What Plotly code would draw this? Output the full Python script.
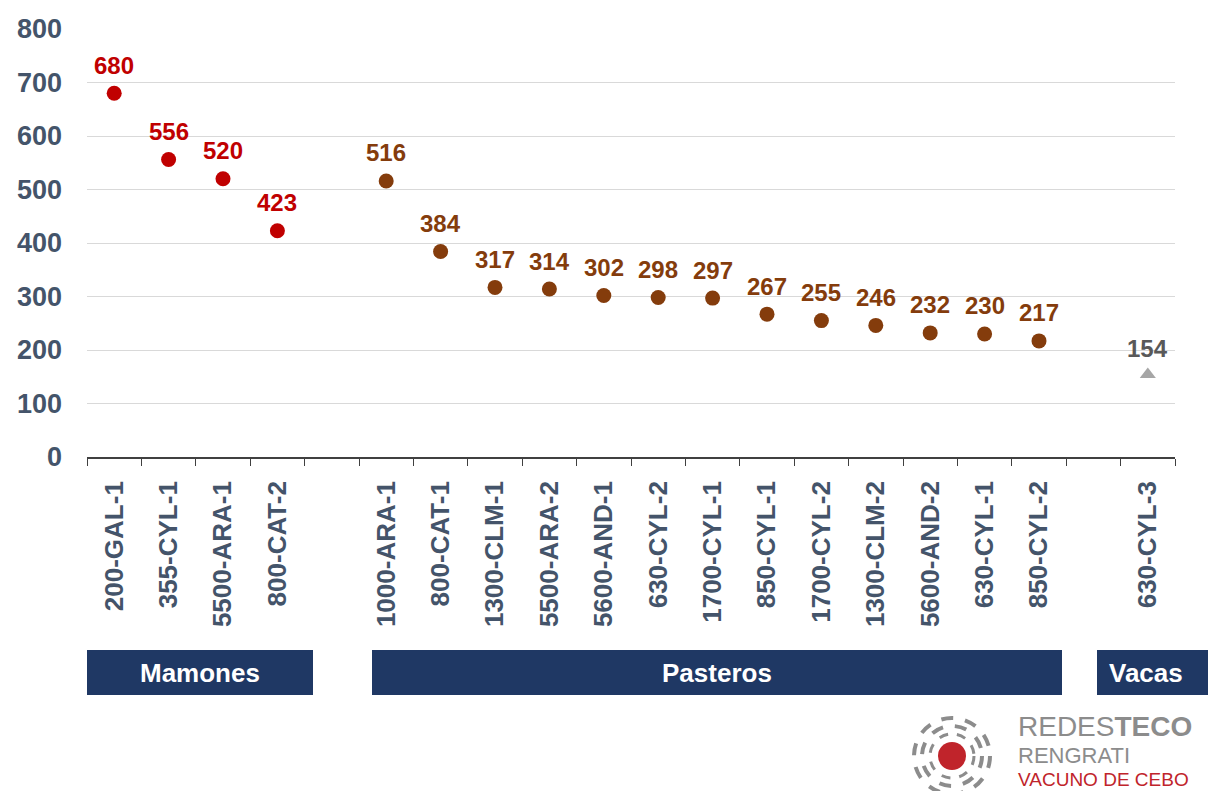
import plotly.graph_objects as go

# categories (blank slots separate the groups)
mamones = ["200-GAL-1", "355-CYL-1", "5500-ARA-1", "800-CAT-2"]
mamones_val = [680, 556, 520, 423]

pasteros = ["1000-ARA-1", "800-CAT-1", "1300-CLM-1", "5500-ARA-2", "5600-AND-1",
            "630-CYL-2", "1700-CYL-1", "850-CYL-1", "1700-CYL-2", "1300-CLM-2",
            "5600-AND-2", "630-CYL-1", "850-CYL-2"]
pasteros_val = [516, 384, 317, 314, 302, 298, 297, 267, 255, 246, 232, 230, 217]

vacas = ["630-CYL-3"]
vacas_val = [154]

categories = mamones + [" "] + pasteros + ["  "] + vacas

W, H = 1208, 791
L, R, T, B = 87, 33, 29, 334
pw, ph = W - L - R, H - T - B


def px(x):
    return (x - L) / pw


def py(y):
    return (H - B - y) / ph


FONT = "Liberation Sans, Arial"

fig = go.Figure()

series = [
    (mamones, mamones_val, "#c00000", "#c00000", "circle", 15, 28),
    (pasteros, pasteros_val, "#843c0c", "#843c0c", "circle", 15, 28),
    (vacas, vacas_val, "#a6a6a6", "#595959", "triangle-up", 14, 26),
]
for cats, vals, mcol, tcol, sym, size, shift in series:
    fig.add_trace(go.Scatter(
        x=cats, y=vals, mode="markers",
        marker=dict(color=mcol, size=size, symbol=sym),
        cliponaxis=False, showlegend=False))
    for c, v in zip(cats, vals):
        fig.add_annotation(x=c, y=v, text=str(v), showarrow=False,
                           yshift=shift, yanchor="middle",
                           font=dict(family=FONT, size=24, color=tcol, weight="bold"))

# group boxes under the axis
groups = [("Mamones", px(87), px(313)), ("Pasteros", px(372), px(1062)),
          ("Vacas", px(1097), px(1210))]
for name, x0, x1 in groups:
    fig.add_shape(type="rect", xref="paper", yref="paper", x0=x0, x1=x1,
                  y0=py(695), y1=py(650), fillcolor="#1f3864", line_width=0,
                  layer="above")
    xc = (x0 + x1) / 2 if name != "Vacas" else px(1146)
    fig.add_annotation(xref="paper", yref="paper", x=xc, y=py(673),
                       xanchor="center", yanchor="middle",
                       text=name, showarrow=False,
                       font=dict(family=FONT, size=26, color="white", weight="bold"))

# logo
cx, cy = 952, 756
for r, w in [(38, 4), (30, 4), (22, 3)]:
    fig.add_shape(type="circle", xref="paper", yref="paper",
                  x0=px(cx - r), x1=px(cx + r), y0=py(cy + r), y1=py(cy - r),
                  line=dict(color="#8c8c8c", width=w, dash="dash"), layer="above")
fig.add_shape(type="circle", xref="paper", yref="paper",
              x0=px(cx - 14), x1=px(cx + 14), y0=py(cy + 14), y1=py(cy - 14),
              fillcolor="#c0242b", line_width=0, layer="above")
logo_lines = [("REDES<b>TECO</b>", 726, 28, "#8c8c8c"),
              ("RENGRATI", 755, 22, "#8c8c8c"),
              ("VACUNO DE CEBO", 779, 19, "#c0242b")]
for txt, yy, sz, col in logo_lines:
    fig.add_annotation(xref="paper", yref="paper", x=px(1016), y=py(yy),
                       xanchor="left", yanchor="middle", text=txt, showarrow=False,
                       font=dict(family=FONT, size=sz, color=col))

fig.update_layout(
    width=W, height=H,
    margin=dict(l=L, r=R, t=T, b=B),
    plot_bgcolor="white", paper_bgcolor="white",
    font=dict(family=FONT),
)
fig.update_xaxes(type="category", categoryorder="array", categoryarray=categories,
                 range=[-0.5, len(categories) - 0.5],
                 tickson="boundaries", ticks="outside", ticklen=7, tickcolor="#404040",
                 showline=True, linecolor="#404040", linewidth=1.5, showgrid=False,
                 tickangle=-90, ticklabelstandoff=12,
                 tickfont=dict(size=26, color="#44546a", weight="bold"))
fig.update_yaxes(range=[0, 800], dtick=100, showgrid=True, gridcolor="#d9d9d9",
                 zeroline=False, ticks="", ticklabelstandoff=24,
                 tickfont=dict(size=27, color="#44546a", weight="bold"))

fig.write_html("out.html", config={"displayModeBar": False},
               post_script="document.body.style.margin='0';")
